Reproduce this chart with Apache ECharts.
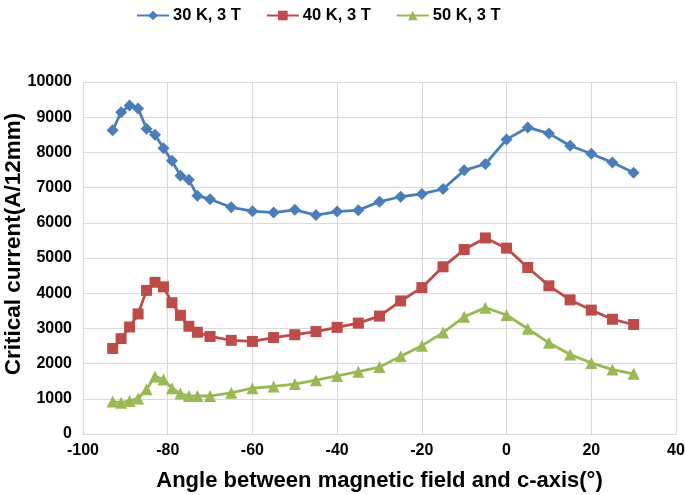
<!DOCTYPE html>
<html>
<head>
<meta charset="utf-8">
<script src="https://cdn.jsdelivr.net/npm/echarts@6/dist/echarts.min.js"></script>
<style>
html,body{margin:0;padding:0;background:#fff;}
#chart{width:685px;height:495px;}
</style>
</head>
<body>
<div id="chart"></div>
<script>
const angles = [-93,-91,-89,-87,-85,-83,-81,-79,-77,-75,-73,-70,-65,-60,-55,-50,-45,-40,-35,-30,-25,-20,-15,-10,-5,0,5,10,15,20,25,30];
const k30 = [8630,9140,9330,9250,8670,8500,8120,7760,7340,7220,6770,6670,6440,6330,6290,6370,6220,6320,6360,6600,6740,6820,6960,7490,7670,8370,8710,8540,8190,7960,7710,7420];
const k40 = [2430,2710,3040,3410,4080,4310,4180,3730,3370,3060,2890,2770,2660,2630,2740,2820,2910,3030,3150,3350,3780,4160,4750,5240,5570,5280,4730,4210,3810,3520,3260,3110];
const k50 = [920,890,940,1010,1270,1630,1550,1300,1150,1080,1080,1080,1170,1300,1350,1420,1530,1650,1770,1900,2210,2510,2880,3330,3590,3380,2990,2590,2260,2020,1830,1710];
const seriesNames = ['30 K, 3 T','40 K, 3 T','50 K, 3 T'];

const pair = arr => angles.map((a,i)=>[a,arr[i]]);
const font = 'Liberation Sans, Arial, sans-serif';
const chart = echarts.init(document.getElementById('chart'));
chart.setOption({
  animation:false,
  backgroundColor:'#fff',
  legend:{
    top:2, left:131, itemWidth:32, itemHeight:12, itemGap:25,
    textStyle:{fontFamily:font,fontWeight:'bold',fontSize:16.5,color:'#000',padding:[0,0,0,-1]},
    data:seriesNames
  },
  grid:{left:83,right:9,top:82,bottom:61,containLabel:false,outerBoundsMode:'none'},
  xAxis:{
    type:'value',min:-100,max:40,interval:20,
    name:'Angle between magnetic field and c-axis(°)',nameLocation:'middle',nameGap:36,
    nameMoveOverlap:false,
    nameTextStyle:{fontFamily:font,fontWeight:'bold',fontSize:22,color:'#000'},
    axisLine:{show:true,lineStyle:{color:'#d9d9d9'}},
    axisTick:{show:false},
    axisLabel:{fontFamily:font,fontWeight:'bold',fontSize:16,color:'#000',margin:9},
    splitLine:{show:true,lineStyle:{color:'#d9d9d9',width:1}}
  },
  yAxis:{
    type:'value',min:0,max:10000,interval:1000,
    name:'Critical current(A/12mm)',nameLocation:'middle',nameGap:58,nameRotate:90,
    nameMoveOverlap:false,
    nameTextStyle:{fontFamily:font,fontWeight:'bold',fontSize:22.5,color:'#000',padding:[0,0,0,28]},
    axisLine:{show:true,lineStyle:{color:'#d9d9d9'}},
    axisTick:{show:false},
    axisLabel:{fontFamily:font,fontWeight:'bold',fontSize:16,color:'#000',margin:11,
      formatter:v=>String(v)},
    splitLine:{show:true,lineStyle:{color:'#d9d9d9',width:1}}
  },
  series:[
    {name:seriesNames[0],type:'line',data:pair(k30),symbol:'diamond',symbolSize:12,
     itemStyle:{color:'#4a7ebb'},lineStyle:{color:'#4a7ebb',width:2.8}},
    {name:seriesNames[1],type:'line',data:pair(k40),symbol:'rect',symbolSize:11,
     itemStyle:{color:'#be4b48'},lineStyle:{color:'#be4b48',width:2.8}},
    {name:seriesNames[2],type:'line',data:pair(k50),symbol:'triangle',symbolSize:12,
     itemStyle:{color:'#98b954'},lineStyle:{color:'#98b954',width:2.8}}
  ]
});
</script>
</body>
</html>
